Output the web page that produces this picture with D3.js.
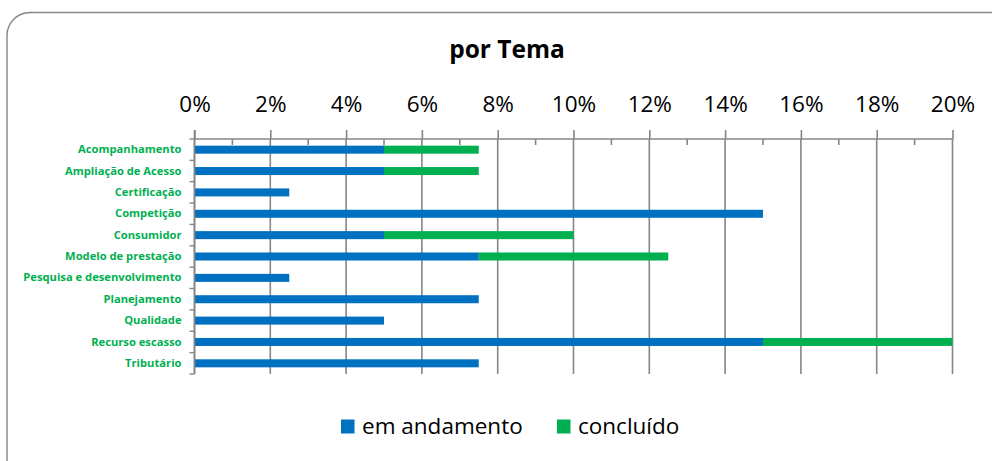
<!DOCTYPE html>
<html>
<head>
<meta charset="utf-8">
<script src="https://cdn.jsdelivr.net/npm/d3@7"></script>
<style>
  body { margin: 0; background: #fff; }
  svg { display: block; font-family: "Open Sans", sans-serif; }
</style>
</head>
<body>
<svg id="chart" width="992" height="461"></svg>
<script>
// data (percent)
var temas = ["Acompanhamento", "Ampliação de Acesso", "Certificação", "Competição",
  "Consumidor", "Modelo de prestação", "Pesquisa e desenvolvimento", "Planejamento",
  "Qualidade", "Recurso escasso", "Tributário"];
var emAndamento = [5, 5, 2.5, 15, 5, 7.5, 2.5, 7.5, 5, 15, 7.5];
var concluido = [2.5, 2.5, 0, 0, 5, 5, 0, 0, 0, 5, 0];
var series = ["em andamento", "concluído"];
var colors = ["#0070C0", "#00B050"];
var majorTicks = [0, 2, 4, 6, 8, 10, 12, 14, 16, 18, 20];
var minorTicks = [1, 3, 5, 7, 9, 11, 13, 15, 17, 19];

var svg = d3.select("#chart");
var grey = "#868686";

// plot area
var plot = {left: 194.5, right: 952.5, top: 139, bottom: 374};

var x = d3.scaleLinear()
    .domain([0, 20])
    .range([plot.left, plot.right]);

var y = d3.scaleBand()
    .domain(temas)
    .range([plot.top, plot.bottom])
    .paddingInner(0.625)
    .paddingOuter(0.3125);

var step = (plot.bottom - plot.top) / temas.length;

// chart border
svg.append("rect")
    .attr("x", 7)
    .attr("y", 12.5)
    .attr("width", 1010)
    .attr("height", 470)
    .attr("rx", 23)
    .attr("fill", "none")
    .attr("stroke", grey)
    .attr("stroke-width", 1.4);

// title
svg.append("text")
    .attr("x", 507)
    .attr("y", 58)
    .attr("text-anchor", "middle")
    .style("font-size", "24.5px")
    .style("font-weight", "bold")
    .text("por Tema");

// gridlines
svg.append("g").selectAll("line")
    .data(majorTicks)
  .enter().append("line")
    .attr("x1", function(d) { return x(d); })
    .attr("x2", function(d) { return x(d); })
    .attr("y1", plot.top)
    .attr("y2", plot.bottom)
    .attr("stroke", grey)
    .attr("stroke-width", 1.6);

// stacked bars
var rows = temas.map(function(t, i) {
  return {tema: t, "em andamento": emAndamento[i], "concluído": concluido[i]};
});
var stacked = d3.stack().keys(series)(rows);

svg.append("g").selectAll("g")
    .data(stacked)
  .enter().append("g")
    .attr("fill", function(d, i) { return colors[i]; })
  .selectAll("rect")
    .data(function(d) { return d; })
  .enter().append("rect")
    .attr("x", function(d) { return x(d[0]); })
    .attr("width", function(d) { return x(d[1]) - x(d[0]); })
    .attr("y", function(d) { return y(d.data.tema); })
    .attr("height", y.bandwidth());

// top value axis
var xAxis = svg.append("g")
    .attr("transform", "translate(0," + plot.top + ")")
    .call(d3.axisTop(x)
      .tickValues(majorTicks)
      .tickSize(9)
      .tickPadding(18)
      .tickFormat(function(d) { return d + "%"; }));
xAxis.select(".domain").remove();
xAxis.selectAll("line").attr("stroke", grey).attr("stroke-width", 1.6);
xAxis.selectAll("text")
    .attr("fill", "#000")
    .style("font-family", "'Open Sans', sans-serif")
    .style("font-size", "22.5px");

svg.append("line")
    .attr("x1", plot.left)
    .attr("x2", plot.right)
    .attr("y1", plot.top)
    .attr("y2", plot.top)
    .attr("stroke", grey)
    .attr("stroke-width", 1.6);

// minor ticks
svg.append("g").selectAll("line")
    .data(minorTicks)
  .enter().append("line")
    .attr("x1", function(d) { return x(d); })
    .attr("x2", function(d) { return x(d); })
    .attr("y1", plot.top)
    .attr("y2", plot.top + 6)
    .attr("stroke", grey)
    .attr("stroke-width", 1.6);

// left category axis
var yAxis = svg.append("g")
    .attr("transform", "translate(" + plot.left + ",0)")
    .call(d3.axisLeft(y).tickSize(0).tickPadding(13));
yAxis.select(".domain").remove();
yAxis.selectAll("text")
    .attr("fill", "#00B050")
    .style("font-family", "'Open Sans', sans-serif")
    .style("font-weight", "bold")
    .style("font-size", "11.2px");

svg.append("line")
    .attr("x1", plot.left)
    .attr("x2", plot.left)
    .attr("y1", plot.top - 9)
    .attr("y2", plot.bottom)
    .attr("stroke", grey)
    .attr("stroke-width", 1.6);

// category boundary ticks
svg.append("g").selectAll("line")
    .data(d3.range(temas.length + 1))
  .enter().append("line")
    .attr("x1", plot.left - 5)
    .attr("x2", plot.left)
    .attr("y1", function(i) { return plot.top + i * step; })
    .attr("y2", function(i) { return plot.top + i * step; })
    .attr("stroke", grey)
    .attr("stroke-width", 1.4);

// legend
var legendX = [341, 557];
var legend = svg.append("g").selectAll("g")
    .data(series)
  .enter().append("g")
    .attr("transform", function(d, i) { return "translate(" + legendX[i] + ",419.5)"; });

legend.append("rect")
    .attr("width", 13.5)
    .attr("height", 14)
    .attr("fill", function(d, i) { return colors[i]; });

legend.append("text")
    .attr("x", 21)
    .attr("y", 14.5)
    .style("font-size", "22.5px")
    .attr("fill", "#000")
    .text(function(d) { return d; });
</script>
</body>
</html>
